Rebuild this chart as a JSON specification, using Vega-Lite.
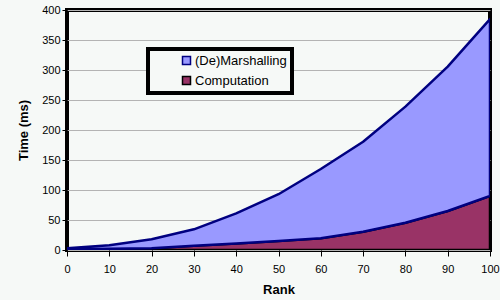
{
  "$schema": "https://vega.github.io/schema/vega-lite/v6.json",
  "autosize": "none",
  "width": 423,
  "height": 240,
  "padding": {"left": 67, "top": 10, "right": 10, "bottom": 50},
  "background": "#f6f9f7",
  "config": {
    "view": {"stroke": "black", "strokeWidth": 4, "fill": "#f6f9f7"},
    "font": "Liberation Sans",
    "axis": {"labelFont": "Liberation Sans", "titleFont": "Liberation Sans", "labelColor": "black", "titleColor": "black", "labelFontSize": 11, "titleFontSize": 13, "titleFontWeight": "bold", "domain": false, "tickColor": "black", "tickSize": 5}
  },
  "data": {
    "values": [
      {"Rank": 0, "Series": "Computation", "Time": 1},
      {"Rank": 10, "Series": "Computation", "Time": 2},
      {"Rank": 20, "Series": "Computation", "Time": 3},
      {"Rank": 30, "Series": "Computation", "Time": 7},
      {"Rank": 40, "Series": "Computation", "Time": 11},
      {"Rank": 50, "Series": "Computation", "Time": 15},
      {"Rank": 60, "Series": "Computation", "Time": 19.5},
      {"Rank": 70, "Series": "Computation", "Time": 30.5},
      {"Rank": 80, "Series": "Computation", "Time": 45.5},
      {"Rank": 90, "Series": "Computation", "Time": 65},
      {"Rank": 100, "Series": "Computation", "Time": 90},
      {"Rank": 0, "Series": "(De)Marshalling", "Time": 2},
      {"Rank": 10, "Series": "(De)Marshalling", "Time": 6},
      {"Rank": 20, "Series": "(De)Marshalling", "Time": 15},
      {"Rank": 30, "Series": "(De)Marshalling", "Time": 27.5},
      {"Rank": 40, "Series": "(De)Marshalling", "Time": 50},
      {"Rank": 50, "Series": "(De)Marshalling", "Time": 78},
      {"Rank": 60, "Series": "(De)Marshalling", "Time": 115.5},
      {"Rank": 70, "Series": "(De)Marshalling", "Time": 150},
      {"Rank": 80, "Series": "(De)Marshalling", "Time": 193.5},
      {"Rank": 90, "Series": "(De)Marshalling", "Time": 240.5},
      {"Rank": 100, "Series": "(De)Marshalling", "Time": 295}
    ]
  },
  "mark": {"type": "area", "strokeWidth": 2.5, "strokeJoin": "round", "clip": true},
  "encoding": {
    "x": {"field": "Rank", "type": "quantitative", "scale": {"domain": [0, 100], "nice": false},
      "axis": {"values": [0,10,20,30,40,50,60,70,80,90,100], "grid": false, "labelPadding": 7, "tickSize": 6, "titlePadding": 9, "labelOverlap": false, "labelFlush": false}},
    "y": {"field": "Time", "type": "quantitative", "stack": "zero", "title": "Time (ms)", "scale": {"domain": [0, 400], "nice": false},
      "axis": {"values": [0,50,100,150,200,250,300,350,400], "grid": true, "gridColor": "#b4b4b4", "gridWidth": 1, "gridOpacity": 1, "labelPadding": 2, "titlePadding": 11}},
    "order": {"field": "Series", "sort": "descending"},
    "color": {"field": "Series", "type": "nominal",
      "scale": {"domain": ["(De)Marshalling", "Computation"], "range": ["#9999ff", "#993366"]},
      "legend": {"title": "\u00a0\u00a0\u00a0\u00a0\u00a0\u00a0\u00a0", "titleOrient": "right", "titlePadding": 0, "titleFontSize": 13, "titleFont": "Liberation Sans",
        "orient": "none", "legendX": 81, "legendY": 39, "direction": "vertical",
        "symbolType": "square", "symbolSize": 64, "symbolStrokeWidth": 1.5, "symbolOpacity": 1,
        "labelFont": "Liberation Sans", "labelFontSize": 13, "labelColor": "black", "labelOffset": 2,
        "rowPadding": 5, "padding": 5, "symbolOffset": 27, "strokeColor": "black", "fillColor": "#f6f9f7",
        "encode": {
          "legend": {"update": {"strokeWidth": {"value": 4}}}
        }}},
    "stroke": {"field": "Series", "type": "nominal",
      "scale": {"domain": ["(De)Marshalling", "Computation"], "range": ["#000080", "#000000"]}}
  }
}
